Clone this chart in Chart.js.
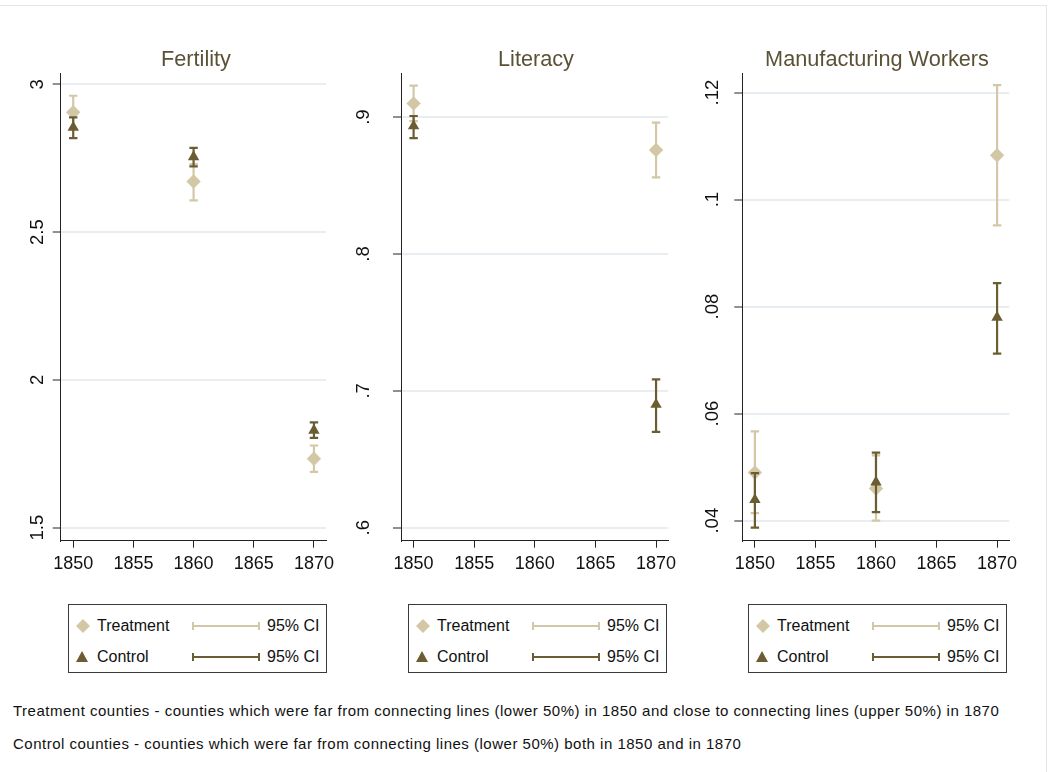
<!DOCTYPE html>
<html><head><meta charset="utf-8">
<script src="https://cdn.jsdelivr.net/npm/chart.js@4.4.1/dist/chart.umd.min.js"></script>
<style>
html,body{margin:0;padding:0;background:#fff;}
body{width:1048px;height:772px;position:relative;overflow:hidden;font-family:"Liberation Sans",Arial,sans-serif;}
.frame{position:absolute;left:-2px;top:5px;width:1047px;height:800px;border:1px solid #e6e6e6;}
.panel{position:absolute;top:0;height:600px;}
.title{position:absolute;font-size:21.7px;color:#5b5136;white-space:nowrap;transform:translateX(-50%);top:46px;line-height:26px;}
.legend{position:absolute;top:604px;width:257px;height:67px;border:1px solid #3a3a3a;font-size:16px;color:#111;overflow:hidden;}
.legend .t{position:absolute;line-height:20px;white-space:nowrap;}
.legend svg{position:absolute;}
.note{position:absolute;left:13px;font-size:15px;letter-spacing:0.5px;color:#111;white-space:nowrap;line-height:18px;}
</style>
</head><body>
<div class="frame"></div>

<div class="panel" style="left:0;width:340px;"><canvas id="c1" width="340" height="600"></canvas></div>
<div class="panel" style="left:345px;width:340px;"><canvas id="c2" width="340" height="600"></canvas></div>
<div class="panel" style="left:690px;width:358px;"><canvas id="c3" width="358" height="600"></canvas></div>

<div class="title" style="left:196px;">Fertility</div>
<div class="title" style="left:536px;">Literacy</div>
<div class="title" style="left:877px;">Manufacturing Workers</div>

<div id="legends"></div>

<div class="note" style="top:702px;">Treatment counties - counties which were far from connecting lines (lower 50%) in 1850 and close to connecting lines (upper 50%) in 1870</div>
<div class="note" style="top:735px;">Control counties - counties which were far from connecting lines (lower 50%) both in 1850 and in 1870</div>

<script>
// ---------------- DATA ----------------
const xTickValues = [1850, 1855, 1860, 1865, 1870];

const fertYears = [1850, 1860, 1870];
const fertTreat = [2.905, 2.671, 1.733];
const fertTreatLo = [2.849, 2.607, 1.689];
const fertTreatHi = [2.961, 2.730, 1.778];
const fertCtrl = [2.854, 2.754, 1.829];
const fertCtrlLo = [2.818, 2.722, 1.804];
const fertCtrlHi = [2.888, 2.785, 1.856];
const fertTickValues = [1.5, 2, 2.5, 3];
const fertTickLabels = ['1.5', '2', '2.5', '3'];

const litYears = [1850, 1870];
const litTreat = [0.910, 0.876];
const litTreatLo = [0.897, 0.856];
const litTreatHi = [0.923, 0.896];
const litCtrl = [0.8935, 0.690];
const litCtrlLo = [0.8847, 0.670];
const litCtrlHi = [0.9008, 0.7083];
const litTickValues = [0.6, 0.7, 0.8, 0.9];
const litTickLabels = ['.6', '.7', '.8', '.9'];

const mfgYears = [1850, 1860, 1870];
const mfgTreat = [0.0490, 0.0460, 0.1083];
const mfgTreatLo = [0.0414, 0.0400, 0.0952];
const mfgTreatHi = [0.0567, 0.0522, 0.1214];
const mfgCtrl = [0.0439, 0.0472, 0.0780];
const mfgCtrlLo = [0.0387, 0.0416, 0.0712];
const mfgCtrlHi = [0.0489, 0.0527, 0.0844];
const mfgTickValues = [0.04, 0.06, 0.08, 0.10, 0.12];
const mfgTickLabels = ['.04', '.06', '.08', '.1', '.12'];

const seriesNames = ['Treatment', 'Control'];
const ciLabel = '95% CI';

// ---------------- STYLE ----------------
const TREAT_COLOR = '#d3c8a6';
const CTRL_COLOR = '#6b5c32';
const AXIS_COLOR = '#222222';
const GRID_COLOR = '#e8eef1';
const TEXT_COLOR = '#111111';
const FONT = '"Liberation Sans", Arial, sans-serif';

function pts(xs, ys) { return xs.map((x, i) => ({x: x, y: ys[i]})); }
function ciPts(xs, lo, hi) {
  const out = [];
  xs.forEach((x, i) => { out.push({x: x, y: lo[i]}); out.push({x: x, y: hi[i]}); out.push({x: x, y: null}); });
  return out;
}

function makePanel(id, p) {
  const ciDs = (label, color, data) => ({
    type: 'line', label: label, data: data, borderColor: color, borderWidth: 2.2,
    pointStyle: 'line', pointRadius: 4.2, pointBorderWidth: 2.2, pointBorderColor: color,
    pointBackgroundColor: color, spanGaps: false, fill: false, tension: 0
  });
  new Chart(document.getElementById(id), {
    type: 'scatter',
    data: {
      datasets: [
        {label: seriesNames[1], data: pts(p.years, p.ctrl), pointStyle: 'triangle', pointRadius: 6.6,
         backgroundColor: CTRL_COLOR, borderColor: CTRL_COLOR, borderWidth: 0},
        ciDs(ciLabel, CTRL_COLOR, ciPts(p.years, p.ctrlLo, p.ctrlHi)),
        {label: seriesNames[0], data: pts(p.years, p.treat), pointStyle: 'rectRot', pointRadius: 7.2,
         backgroundColor: TREAT_COLOR, borderColor: TREAT_COLOR, borderWidth: 0},
        ciDs(ciLabel, TREAT_COLOR, ciPts(p.years, p.treatLo, p.treatHi))
      ]
    },
    options: {
      responsive: false, animation: false, devicePixelRatio: 1,
      layout: {padding: {top: 73.3, right: p.padRight, left: 0, bottom: 0}},
      plugins: {legend: {display: false}, tooltip: {enabled: false}, title: {display: false}},
      scales: {
        x: {
          type: 'linear', min: 1848.96, max: 1871.01,
          afterBuildTicks: s => { s.ticks = xTickValues.map(v => ({value: v})); },
          afterFit: s => { s.height = 600 - 540.7; },
          ticks: {callback: v => String(v), font: {family: FONT, size: 18}, color: TEXT_COLOR, padding: 5.5, maxRotation: 0, minRotation: 0},
          grid: {drawOnChartArea: false, drawTicks: true, tickLength: 7, tickColor: AXIS_COLOR, tickWidth: 1},
          border: {display: true, color: AXIS_COLOR, width: 1}
        },
        y: {
          type: 'linear', min: p.ymin, max: p.ymax,
          afterBuildTicks: s => { s.ticks = p.tickValues.map(v => ({value: v})); },
          afterFit: s => { s.width = p.yWidth; },
          ticks: {callback: (v, i) => p.tickLabels[i], font: {family: FONT, size: 18.5}, color: TEXT_COLOR,
                  minRotation: 90, maxRotation: 90, crossAlign: 'center', padding: p.labelPad},
          grid: {color: GRID_COLOR, lineWidth: 2, drawTicks: true, tickLength: 8, tickColor: AXIS_COLOR, tickWidth: 1},
          border: {display: true, color: AXIS_COLOR, width: 1}
        }
      }
    }
  });
}

makePanel('c1', {years: fertYears, treat: fertTreat, treatLo: fertTreatLo, treatHi: fertTreatHi,
  ctrl: fertCtrl, ctrlLo: fertCtrlLo, ctrlHi: fertCtrlHi, ymin: 1.456, ymax: 3.037,
  tickValues: fertTickValues, tickLabels: fertTickLabels, yWidth: 60.7, padRight: 340 - 328.3, labelPad: 1.5});
makePanel('c2', {years: litYears, treat: litTreat, treatLo: litTreatLo, treatHi: litTreatHi,
  ctrl: litCtrl, ctrlLo: litCtrlLo, ctrlHi: litCtrlHi, ymin: 0.5905, ymax: 0.932,
  tickValues: litTickValues, tickLabels: litTickLabels, yWidth: 401 - 345, padRight: 685 - 668.3, labelPad: 21});
makePanel('c3', {years: mfgYears, treat: mfgTreat, treatLo: mfgTreatLo, treatHi: mfgTreatHi,
  ctrl: mfgCtrl, ctrlLo: mfgCtrlLo, ctrlHi: mfgCtrlHi, ymin: 0.03626, ymax: 0.1236,
  tickValues: mfgTickValues, tickLabels: mfgTickLabels, yWidth: 742.3 - 690, padRight: 1048 - 1009.3, labelPad: 8.5});

// ---------------- LEGENDS ----------------
const legendLefts = [68, 408, 748];
const lg = document.getElementById('legends');
legendLefts.forEach(left => {
  const box = document.createElement('div');
  box.className = 'legend';
  box.style.left = left + 'px';
  const rows = [
    {name: seriesNames[0], color: TREAT_COLOR, cy: 21,
     marker: '<polygon points="7,0 14,7 7,14 0,7" fill="' + TREAT_COLOR + '"/>'},
    {name: seriesNames[1], color: CTRL_COLOR, cy: 52,
     marker: '<polygon points="6,1 12,12 0,12" fill="' + CTRL_COLOR + '"/>'}
  ];
  let html = '';
  rows.forEach(r => {
    html += '<svg width="14" height="14" style="left:7px;top:' + (r.cy - 7) + 'px">' + r.marker + '</svg>';
    html += '<div class="t" style="left:28px;top:' + (r.cy - 10) + 'px">' + r.name + '</div>';
    html += '<svg width="70" height="12" style="left:122px;top:' + (r.cy - 6) + 'px">' +
      '<line x1="2" y1="6" x2="68" y2="6" stroke="' + r.color + '" stroke-width="2.2"/>' +
      '<line x1="2" y1="2" x2="2" y2="10" stroke="' + r.color + '" stroke-width="2"/>' +
      '<line x1="68" y1="2" x2="68" y2="10" stroke="' + r.color + '" stroke-width="2"/></svg>';
    html += '<div class="t" style="left:198px;top:' + (r.cy - 10) + 'px">' + ciLabel + '</div>';
  });
  box.innerHTML = html;
  lg.appendChild(box);
});
</script>
</body></html>
